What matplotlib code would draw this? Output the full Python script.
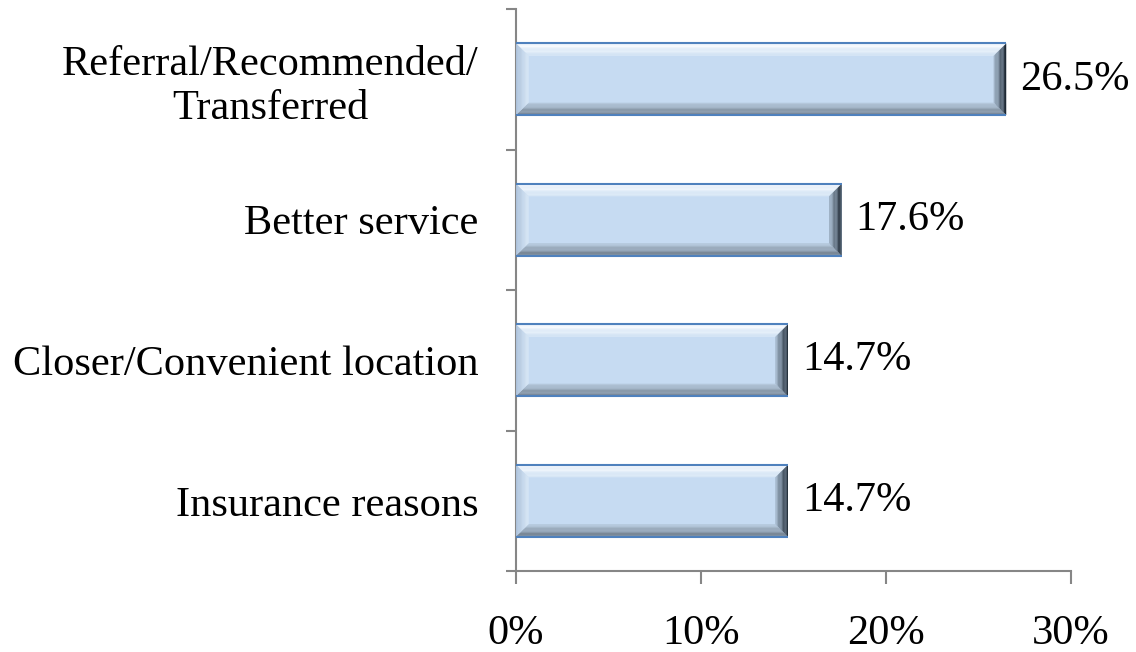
import numpy as np
import matplotlib.pyplot as plt
from matplotlib.patches import Polygon
from matplotlib.colors import to_rgb

plt.rcParams['font.family'] = ['Liberation Serif', 'DejaVu Serif']

categories = ['Insurance reasons', 'Closer/Convenient location', 'Better service',
              'Referral/Recommended/\nTransferred']
values = [14.7, 14.7, 17.6, 26.5]
xticks = [0, 10, 20, 30]
xtick_labels = ['0%', '10%', '20%', '30%']

fig = plt.figure(figsize=(11.36, 6.52), dpi=100)
ax = fig.add_axes([516 / 1136, 81 / 652, 555 / 1136, 562 / 652])

face = '#C6DBF2'
bar_h = 0.51
bx = 0.68   # bevel width in x data units
by = 0.088  # bevel height in y data units
fs = 30.5


def mix(c1, c2, t):
    a, b = np.array(to_rgb(c1)), np.array(to_rgb(c2))
    return tuple(a + (b - a) * t)


def bevel_side(ax, outer, inner, c_out, c_in, n=10):
    # outer/inner: two points each (edge lines); fill strips between them
    (o1, o2), (i1, i2) = np.array(outer, float), np.array(inner, float)
    for k in range(n):
        t0, t1 = k / n, (k + 1) / n
        p1 = o1 + (i1 - o1) * t0
        p2 = o2 + (i2 - o2) * t0
        p3 = o2 + (i2 - o2) * t1
        p4 = o1 + (i1 - o1) * t1
        ax.add_patch(Polygon([p1, p2, p3, p4], closed=True,
                             facecolor=mix(c_out, c_in, (t0 + t1) / 2),
                             edgecolor='none', zorder=3))


for i, v in enumerate(values):
    x0, x1 = 0, v
    y0, y1 = i - bar_h / 2, i + bar_h / 2
    ax.barh(i, v, height=bar_h, color=face, edgecolor='none', zorder=2)
    # top
    bevel_side(ax, [(x0, y1), (x1, y1)], [(x0 + bx, y1 - by), (x1 - bx, y1 - by)],
               '#FFFFFF', '#D6E6F6')
    # bottom
    bevel_side(ax, [(x0, y0), (x1, y0)], [(x0 + bx, y0 + by), (x1 - bx, y0 + by)],
               '#65727F', '#B8CBDF')
    # left
    bevel_side(ax, [(x0, y0), (x0, y1)], [(x0 + bx, y0 + by), (x0 + bx, y1 - by)],
               '#A9BFD8', '#DCEAF8')
    # right
    bevel_side(ax, [(x1, y0), (x1, y1)], [(x1 - bx, y0 + by), (x1 - bx, y1 - by)],
               '#17212C', '#A6BACE')
    ax.plot([x0, x1], [y1, y1], color='#4F81BD', lw=1.5, zorder=4, solid_capstyle='butt')
    ax.plot([x0, x1], [y0, y0], color='#4F81BD', lw=1.5, zorder=4, solid_capstyle='butt')
    ax.annotate(f'{v:.1f}%', (v, i), xytext=(10, 0), textcoords='offset points',
                va='center', ha='left', fontsize=fs)

ax.set_xlim(0, 30)
ax.set_ylim(-0.5, 3.5)
ax.set_xticks(xticks)
ax.set_xticklabels(xtick_labels)
ax.set_yticks(np.arange(-0.5, 4, 1), minor=False)
ax.set_yticklabels([])
ax.set_yticks(range(len(categories)), minor=True)
ax.set_yticklabels(categories, minor=True)
ax.tick_params(axis='y', which='minor', length=0, pad=27, labelsize=fs)
ax.tick_params(axis='y', which='major', length=7, width=1.5, color='#868686')
ax.tick_params(axis='x', length=9, width=1.5, color='#868686', pad=22, labelsize=fs)
for lab in ax.get_yticklabels(minor=True):
    lab.set_horizontalalignment('right')
    lab.set_multialignment('center')

for s in ['top', 'right']:
    ax.spines[s].set_visible(False)
for s in ['left', 'bottom']:
    ax.spines[s].set_color('#868686')
    ax.spines[s].set_linewidth(1.5)

fig.savefig('out.png', dpi=100)
